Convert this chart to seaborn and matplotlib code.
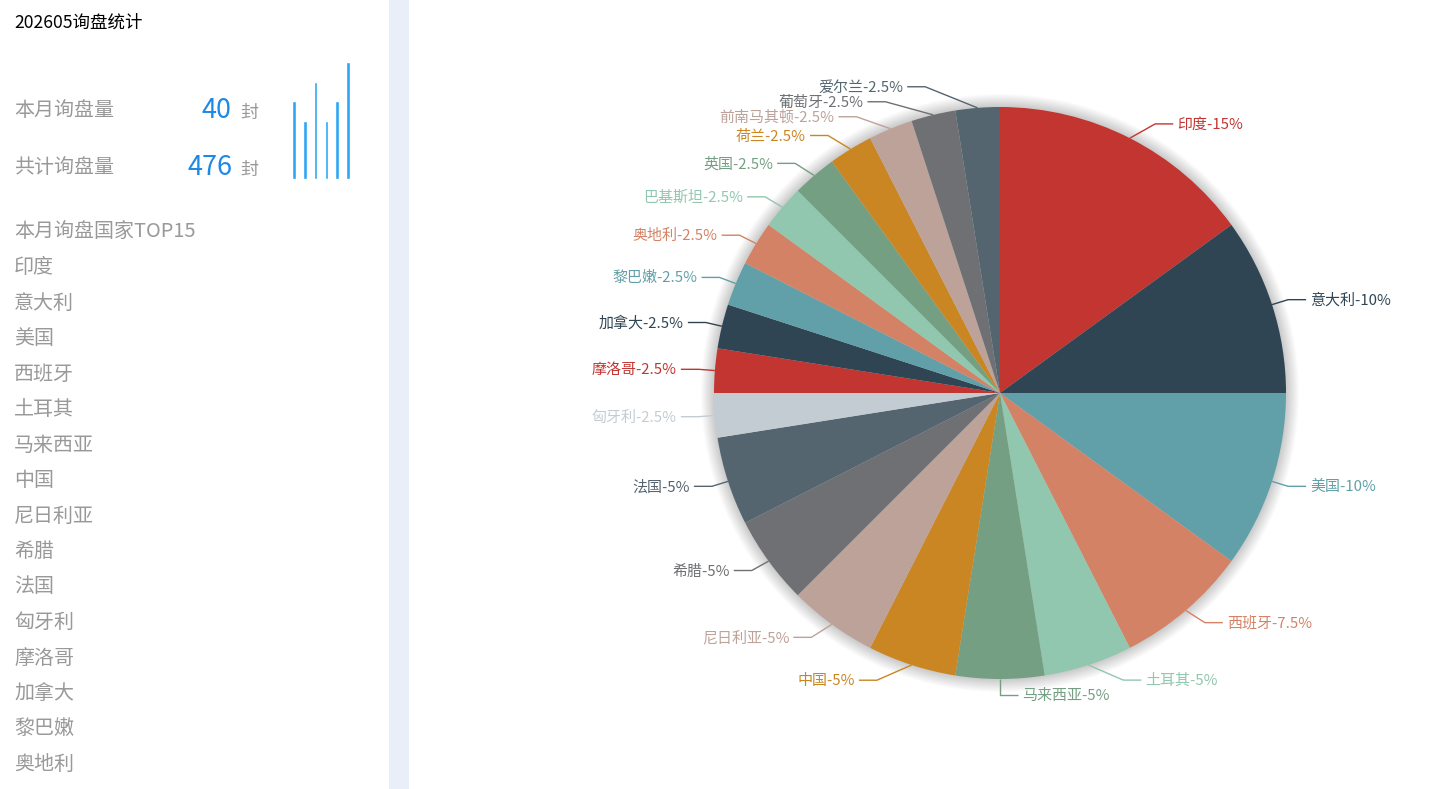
import numpy as np
import pandas as pd
import matplotlib
matplotlib.use("Agg")
import matplotlib.pyplot as plt
from matplotlib.patches import Rectangle, Circle
import seaborn as sns

W, H = 1456, 789

# ---- data ----
title = "202605询盘统计"
month_label = "本月询盘量"
month_count = 40
total_label = "共计询盘量"
total_count = 476
unit = "封"
top_title = "本月询盘国家TOP15"

trend_periods = ["1", "2", "3", "4", "5", "6"]
trend_counts = [4, 3, 5, 3, 4, 6]

countries = ["印度", "意大利", "美国", "西班牙", "土耳其", "马来西亚", "中国",
             "尼日利亚", "希腊", "法国", "匈牙利", "摩洛哥", "加拿大", "黎巴嫩",
             "奥地利", "巴基斯坦", "英国", "荷兰", "前南马其顿", "葡萄牙", "爱尔兰"]
counts = [6, 4, 4, 3, 2, 2, 2, 2, 2, 2, 1, 1, 1, 1, 1, 1, 1, 1, 1, 1, 1]
top15 = countries[:15]

palette = ["#c23531", "#2f4554", "#61a0a8", "#d48265", "#91c7ae", "#749f83",
           "#ca8622", "#bda29a", "#6e7074", "#546570", "#c4ccd3"]
colors = [palette[i % len(palette)] for i in range(len(countries))]


def Y(y):
    # pixel row (from top) -> data y, small nudge for CJK vertical centring
    return H - y


def pt(px):
    return px * 0.72


sns.set_theme(style="white")
plt.rcParams["font.family"] = ["Noto Sans CJK SC", "DejaVu Sans"]

fig = plt.figure(figsize=(W / 100, H / 100), dpi=100)
fig.patch.set_facecolor("white")
ax = fig.add_axes([0, 0, 1, 1])

# separator strip between panels
ax.add_patch(Rectangle((389, 0), 20, H, color="#e8eff8", lw=0, zorder=0))

# ---- left panel ----
gray = "#999999"
dt = 1.5  # text baseline nudge
ax.text(14, Y(21 + dt), title, fontsize=pt(17.5), color="black", va="center", ha="left")
for lab, num, yy in [(month_label, month_count, 109), (total_label, total_count, 166)]:
    ax.text(14, Y(yy + dt), lab, fontsize=pt(20), color=gray, va="center", ha="left")
    ax.text(232, Y(yy + dt), str(num), fontsize=pt(27), color="#1e88e5", va="center", ha="right")
    ax.text(240, Y(yy + 2 + dt), unit, fontsize=pt(18), color=gray, va="center", ha="left")

ax.text(14, Y(231 + dt), top_title, fontsize=pt(20), color=gray, va="center", ha="left")
for i, c in enumerate(top15):
    ax.text(14, Y(266 + 35.5 * i + dt), c, fontsize=pt(20), color=gray, va="center", ha="left")

# mini trend bars
bax = fig.add_axes([288.6 / W, Y(179) / H, 64.8 / W, 117 / H])
trend = pd.DataFrame({"period": trend_periods, "n": trend_counts})
sns.barplot(data=trend, x="period", y="n", color="#2fa6f3", saturation=1,
            width=0.32, ax=bax)
bax.set_xlim(-0.5, 5.5)
bax.set_ylim(0, 6)
bax.axis("off")

# ---- pie ----
cx, cy, r = 1000, 393, 286
L1, L2 = 16, 18

# soft drop shadow around the pie
for k in range(1, 14):
    ax.add_patch(Circle((cx, Y(cy)), r + k, color="black", alpha=0.016, lw=0, zorder=1))

wedges, _ = ax.pie(counts, colors=colors, startangle=90, counterclock=False,
                   center=(cx, Y(cy)), radius=r,
                   wedgeprops=dict(linewidth=0))
for w in wedges:
    w.set_zorder(2)

total = sum(counts)
frac = np.array(counts) / total
mid = (np.cumsum(frac) - frac / 2) * 2 * np.pi
sx, cs = np.sin(mid), np.cos(mid)
nat_y = cy - (r + L1) * cs
side = np.where(sx > -1e-6, 1, -1)


def spread(ys, gap):
    order = list(np.argsort(ys))
    clusters = [[i] for i in order]

    def pos(c):
        n = len(c)
        return np.mean(ys[c]) + gap * (np.arange(n) - (n - 1) / 2)

    merged = True
    while merged:
        merged = False
        for k in range(len(clusters) - 1):
            a, b = pos(clusters[k]), pos(clusters[k + 1])
            if b[0] - a[-1] < gap:
                clusters[k] = clusters[k] + clusters[k + 1]
                del clusters[k + 1]
                merged = True
                break
    out = np.array(ys, dtype=float)
    for c in clusters:
        out[c] = pos(c)
    return out


lab_y = nat_y.copy()
for s in (1, -1):
    idx = np.where(side == s)[0]
    lab_y[idx] = spread(nat_y[idx], 15)

for i, name in enumerate(countries):
    s = side[i]
    ex, ey = cx + r * sx[i], cy - r * cs[i]
    dy = lab_y[i] - cy
    if abs(nat_y[i] - cy) < r + L1 - 0.5:
        end_x = cx + s * np.sqrt(max((r + L1 + L2) ** 2 - dy ** 2, 0))
    else:
        end_x = cx + (r + L1) * sx[i] + s * L2
    elb_x = end_x - s * L2
    ax.plot([ex, elb_x, end_x], [Y(ey), Y(lab_y[i]), Y(lab_y[i])],
            color=colors[i], lw=1, zorder=3, solid_capstyle="butt")
    p = round(counts[i] / total * 100, 1)
    ax.text(end_x + s * 4, Y(lab_y[i] + 1), f"{name}-{p:g}%", fontsize=pt(15),
            color=colors[i], va="center", ha="left" if s > 0 else "right", zorder=3)

ax.set_xlim(0, W)
ax.set_ylim(0, H)
ax.set_aspect("auto")
ax.axis("off")

fig.savefig("out.png", dpi=100, facecolor="white")
